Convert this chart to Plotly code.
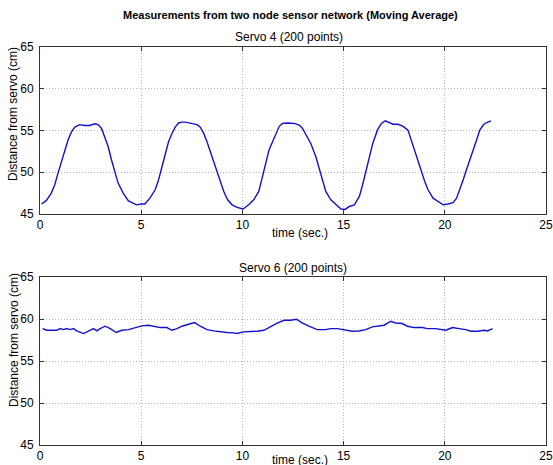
import plotly.graph_objects as go
from plotly.subplots import make_subplots

# ---- data ----
servo4_time = [0.07, 0.31, 0.56, 0.73, 0.89, 1.06, 1.22, 1.39, 1.55, 1.72, 1.96, 2.21, 2.46, 2.71, 2.87,
               3.04, 3.20, 3.37, 3.53, 3.70, 3.86, 4.11, 4.36, 4.52, 4.77, 5.01, 5.18, 5.43, 5.69, 5.86,
               6.02, 6.19, 6.35, 6.52, 6.68, 6.85, 7.01, 7.18, 7.43, 7.76, 7.92, 8.09, 8.25, 8.42, 8.58,
               8.75, 8.91, 9.08, 9.27, 9.49, 9.74, 10.03, 10.31, 10.56, 10.81, 11.02, 11.15, 11.32, 11.49,
               11.65, 11.82, 11.98, 12.23, 12.56, 12.81, 12.97, 13.14, 13.38, 13.63, 13.80, 13.96, 14.12,
               14.37, 14.62, 14.87, 15.08, 15.28, 15.53, 15.78, 15.94, 16.11, 16.27, 16.44, 16.68, 16.87,
               17.06, 17.28, 17.44, 17.69, 17.94, 18.18, 18.35, 18.51, 18.68, 18.85, 19.01, 19.17, 19.42,
               19.67, 19.92, 20.16, 20.41, 20.58, 20.74, 20.91, 21.07, 21.24, 21.40, 21.57, 21.73, 21.90,
               22.06, 22.28]
servo4_dist = [46.2, 46.6, 47.5, 48.5, 49.9, 51.3, 52.7, 53.9, 54.8, 55.4, 55.7, 55.6, 55.6, 55.8, 55.7,
               55.25, 54.2, 53.05, 51.5, 50.1, 48.7, 47.5, 46.6, 46.4, 46.1, 46.2, 46.2, 46.9, 47.9, 49.1,
               50.7, 52.3, 53.65, 54.65, 55.4, 55.9, 56.0, 56.0, 55.85, 55.7, 55.4, 54.65, 53.65, 52.45, 51.3,
               50.1, 48.9, 47.7, 46.7, 46.1, 45.8, 45.6, 46.1, 46.7, 47.7, 49.7, 51.3, 52.7, 53.65,
               54.65, 55.5, 55.85, 55.9, 55.85, 55.65, 55.25, 54.45, 53.45, 51.85, 50.3, 48.9, 47.7,
               46.7, 46.1, 45.6, 45.55, 45.9, 46.1, 47.1, 48.5, 50.3, 51.85, 53.45, 55.1, 55.85,
               56.15, 55.9, 55.75, 55.75, 55.5, 55.05, 53.85, 52.65, 51.45, 50.1, 48.9, 47.9, 46.9,
               46.5, 46.1, 46.2, 46.35, 46.9, 47.9, 49.1, 50.3, 51.45, 52.65, 53.85, 55.05, 55.65,
               55.95, 56.15]

servo6_time = [0.13, 0.33, 0.66, 0.83, 0.99, 1.16, 1.32, 1.49, 1.65, 1.82, 2.15, 2.39, 2.64, 2.81, 2.97,
               3.22, 3.47, 3.76, 4.04, 4.37, 4.79, 5.03, 5.36, 5.69, 5.94, 6.27, 6.52, 6.77, 7.01, 7.34,
               7.64, 7.92, 8.25, 8.58, 8.91, 9.24, 9.57, 9.74, 10.07, 10.40, 10.73, 11.06, 11.39, 11.72,
               12.05, 12.38, 12.67, 12.95, 13.28, 13.70, 14.11, 14.36, 14.69, 15.02, 15.43, 15.76, 16.09,
               16.42, 16.67, 17.00, 17.33, 17.57, 17.90, 18.15, 18.48, 18.89, 19.14, 19.55, 20.05, 20.38,
               20.71, 21.04, 21.29, 21.62, 21.95, 22.11, 22.36]
servo6_dist = [58.86, 58.66, 58.66, 58.66, 58.86, 58.74, 58.86, 58.74, 58.86, 58.58, 58.27, 58.58, 58.86, 58.58, 58.86,
               59.14, 58.86, 58.39, 58.66, 58.74, 58.98, 59.18, 59.26, 59.14, 58.98, 58.98, 58.66, 58.86, 59.14, 59.38,
               59.57, 59.14, 58.74, 58.58, 58.47, 58.39, 58.35, 58.27, 58.47, 58.50, 58.54, 58.66, 59.10, 59.50,
               59.85, 59.85, 59.97, 59.53, 59.14, 58.74, 58.74, 58.86, 58.86, 58.74, 58.54, 58.58, 58.74,
               59.06, 59.14, 59.26, 59.73, 59.53, 59.46, 59.14, 58.98, 58.98, 58.86, 58.86, 58.66, 58.98,
               58.86, 58.74, 58.54, 58.54, 58.66, 58.58, 58.86]

x_ticks = [0, 5, 10, 15, 20, 25]
y_ticks = [45, 50, 55, 60, 65]

fig_title = "Measurements from two node sensor network (Moving Average)"
sub_titles = ["Servo 4 (200 points)", "Servo 6 (200 points)"]
x_label = "time (sec.)"
y_label = "Distance from servo (cm)"

# ---- layout helpers (page pixel -> paper) ----
W, H = 553, 465
PLOT_L, PLOT_R = 40, 546     # plot area in page pixels
L = PLOT_L
R = W - PLOT_R
def px(xp):
    return (xp - PLOT_L) / (PLOT_R - PLOT_L)
def py(yp):
    return (H - yp) / H

FONT = "Arial, Liberation Sans, Helvetica, sans-serif"
LINE_COLOR = "rgb(18,18,205)"

fig = make_subplots(rows=2, cols=1)
fig.add_trace(go.Scatter(x=servo4_time, y=servo4_dist, mode="lines",
                         line=dict(color=LINE_COLOR, width=1.4), showlegend=False), row=1, col=1)
fig.add_trace(go.Scatter(x=servo6_time, y=servo6_dist, mode="lines",
                         line=dict(color=LINE_COLOR, width=1.4), showlegend=False), row=2, col=1)

axis_common = dict(
    showline=True, linecolor="#333333", linewidth=1, mirror="ticks",
    ticks="inside", ticklen=4, tickcolor="#333333",
    showgrid=True, gridcolor="#b4b4b4", griddash="1px,2px", gridwidth=1,
    zeroline=False, automargin=False,
    tickfont=dict(family=FONT, size=12, color="black"),
)
fig.update_xaxes(range=[0, 25], tickvals=x_ticks, domain=[0, 1], **axis_common)
fig.update_yaxes(range=[45, 65], tickvals=y_ticks, ticklabelstandoff=3, **axis_common)
fig.update_layout(
    yaxis=dict(domain=[py(214), py(47)]),
    yaxis2=dict(domain=[py(445), py(277)]),
)

ann = []
ann.append(dict(text="<b>" + fig_title + "</b>", x=px(290), y=py(15), font=dict(size=11)))
ann.append(dict(text=sub_titles[0], x=px(289), y=py(37), font=dict(size=12)))
ann.append(dict(text=sub_titles[1], x=px(293), y=py(268), font=dict(size=12)))
ann.append(dict(text=x_label, x=px(300), y=py(233), font=dict(size=12)))
ann.append(dict(text=x_label, x=px(300), y=py(460), font=dict(size=12)))
ann.append(dict(text=y_label, x=px(13), y=py(114), textangle=-90, font=dict(size=12)))
ann.append(dict(text=y_label, x=px(14), y=py(340), textangle=-90, font=dict(size=12)))
for a in ann:
    a.update(xref="paper", yref="paper", showarrow=False, xanchor="center", yanchor="middle")
    a["font"].update(family=FONT, color="black")

fig.update_layout(
    width=W, height=H,
    margin=dict(l=L, r=R, t=0, b=0, autoexpand=False),
    paper_bgcolor="white", plot_bgcolor="white",
    annotations=ann,
    font=dict(family=FONT, color="black"),
)

fig.write_html("out.html",
               config={"displayModeBar": False},
               post_script="document.body.style.margin='0';document.body.style.overflow='hidden';")
